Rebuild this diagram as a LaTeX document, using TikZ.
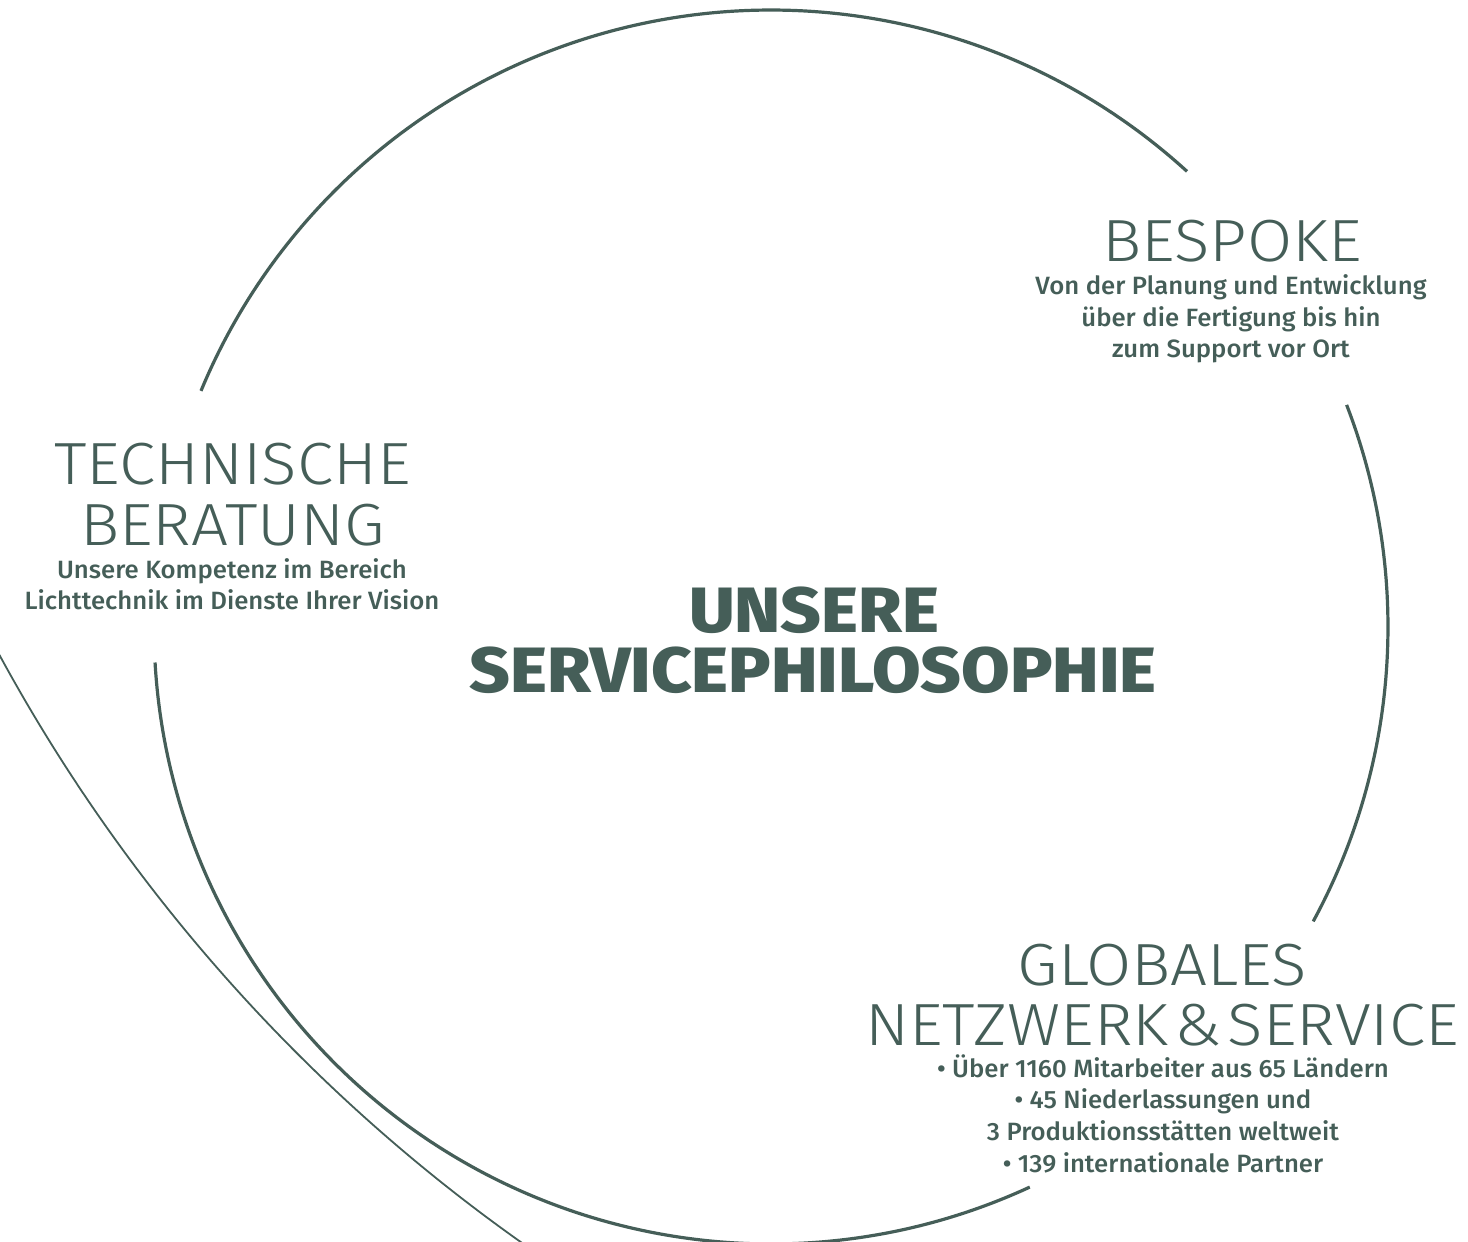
\documentclass[tikz,border=0pt]{standalone}
\usepackage{fontspec}
\setmainfont{Fira Sans}
\newfontfamily\headf{Fira Sans Light}[FakeStretch=1.1]
\newfontfamily\bodyf{Fira Sans Medium}[FakeStretch=1.03]
\newfontfamily\heavyf{Fira Sans ExtraBold}[FakeStretch=1.1]
\definecolor{ink}{RGB}{69,94,88}
\begin{document}
\begin{tikzpicture}[x=1pt,y=-1pt,
  head/.style={font=\headf\fontsize{59.5}{60}\selectfont, text=ink, anchor=base, inner sep=0pt},
  sub/.style={font=\bodyf\fontsize{25}{26}\selectfont, text=ink, anchor=base, inner sep=0pt},
  core/.style={font=\heavyf\fontsize{64}{64}\selectfont, text=ink, anchor=base, inner sep=0pt},
  ring/.style={draw=ink, line width=3.2pt},
  thinline/.style={draw=ink, line width=1.8pt}]
\useasboundingbox (0,0) rectangle (1468,1242);
\clip (0,0) rectangle (1468,1242);
% main ring, broken into three arcs
\coordinate (c) at (771,627);
\draw[ring] (c) ++(-47.6:617) arc[start angle=-47.6, end angle=-157.5, radius=617];
\draw[ring] (c) ++(-21.1:617) arc[start angle=-21.1, end angle=28.5, radius=617];
\draw[ring] (c) ++(65.2:617) arc[start angle=65.2, end angle=176.7, radius=617];
% thin sweeping curve
\coordinate (t) at (1523,-173);
\draw[thinline] (t) ++(156:1734) arc[start angle=156, end angle=122, radius=1734];
% centre
\node[core] (core1) at (814,632) {UNSERE};
\node[core] (core2) at (813,692) {SERVICEPHILOSOPHIE};
% technische beratung
\node[head] (tb1) at (232.5,484) {TECHNISCHE};
\node[head] (tb2) at (232.5,545) {BERATUNG};
\node[sub] (tbs1) at (232,578) {Unsere Kompetenz im Bereich};
\node[sub] (tbs2) at (232,609) {Lichttechnik im Dienste Ihrer Vision};
% bespoke
\node[head] (bp1) at (1232,261) {BESPOKE};
\node[sub] (bps1) at (1231,294) {Von der Planung und Entwicklung};
\node[sub] (bps2) at (1231,326) {über die Fertigung bis hin};
\node[sub] (bps3) at (1231,357) {zum Support vor Ort};
% globales netzwerk
\node[head] (gn1) at (1162,985) {GLOBALES};
\node[head] (gn2) at (1162,1045) {NETZWERK\hspace{6pt}\&\hspace{6pt}SERVICE};
\node[sub] (gns1) at (1163,1077) {• Über 1160 Mitarbeiter aus 65 Ländern};
\node[sub] (gns2) at (1163,1108) {• 45 Niederlassungen und};
\node[sub] (gns3) at (1163,1140) {3 Produktionsstätten weltweit};
\node[sub] (gns4) at (1163,1172) {• 139 internationale Partner};
\end{tikzpicture}
\end{document}
